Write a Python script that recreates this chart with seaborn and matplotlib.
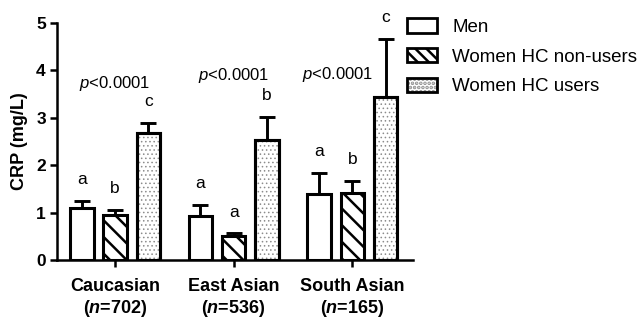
"""CRP by ethnic group and hormonal-contraceptive status (bar chart, mean + SEM)."""

import matplotlib
import matplotlib.pyplot as plt
import pandas as pd
import seaborn as sns
from matplotlib.patches import Patch, Rectangle

matplotlib.use("Agg")

# Values
groups = ["Caucasian", "East Asian", "South Asian"]
group_n = [702, 536, 165]
series = ["Men", "Women HC non-users", "Women HC users"]
crp_mean = [
    [1.09, 0.93, 1.39],  # Men
    [0.95, 0.51, 1.42],  # Women HC non-users
    [2.69, 2.53, 3.44],  # Women HC users
]
crp_err = [
    [0.15, 0.24, 0.44],
    [0.10, 0.05, 0.25],
    [0.21, 0.48, 1.22],
]
letters = [
    ["a", "a", "a"],
    ["b", "a", "b"],
    ["c", "b", "c"],
]
p_text = "$\\mathit{p}$<0.0001"
p_y = [3.72, 3.90, 3.92]
p_dx = [0.0, 0.0, -0.12]


def build_frame():
    rows = []
    for s, name in enumerate(series):
        for g, grp in enumerate(groups):
            rows.append({"group": grp, "series": name, "crp": crp_mean[s][g]})
    return pd.DataFrame(rows)


def main():
    sns.set_style("ticks")
    plt.rcParams["font.family"] = ["Liberation Sans", "DejaVu Sans"]
    plt.rcParams["text.color"] = "black"
    plt.rcParams["axes.labelcolor"] = "black"
    plt.rcParams["mathtext.fontset"] = "custom"
    plt.rcParams["mathtext.rm"] = "Liberation Sans"
    plt.rcParams["mathtext.it"] = "Liberation Sans:italic"
    plt.rcParams["mathtext.bf"] = "Liberation Sans:bold"
    plt.rcParams["mathtext.bfit"] = "Liberation Sans:italic:bold"
    plt.rcParams["hatch.linewidth"] = 1.8

    df = build_frame()
    fig, ax = plt.subplots(figsize=(6.43, 3.2), dpi=100)
    fig.subplots_adjust(left=0.0886, right=0.642, bottom=0.1875, top=0.928)

    sns.barplot(
        data=df, x="group", y="crp", hue="series",
        order=groups, hue_order=series,
        palette=["white"] * 3, edgecolor="black", linewidth=2.2,
        width=0.84, gap=0.3, errorbar=None, legend=False, ax=ax,
    )

    hatches = ["", "\\\\", None]
    bar_conts = list(ax.containers)
    for s, cont in enumerate(bar_conts):
        for g, bar in enumerate(cont):
            if hatches[s]:
                bar.set_hatch(hatches[s])
            x = bar.get_x() + bar.get_width() / 2
            top = bar.get_height()
            if hatches[s] is None:
                dots = Rectangle(bar.get_xy(), bar.get_width(), top, fill=False,
                                 hatch="....", edgecolor="#8c8c8c", lw=0,
                                 zorder=bar.get_zorder() + 0.1)
                if hasattr(dots, "set_hatch_linewidth"):
                    dots.set_hatch_linewidth(0.6)
                ax.add_patch(dots)
                ax.add_patch(Rectangle(bar.get_xy(), bar.get_width(), top, fill=False,
                                       edgecolor="black", lw=2.2,
                                       zorder=bar.get_zorder() + 0.2))
            ax.errorbar(x, top, yerr=[[0], [crp_err[s][g]]], fmt="none",
                        ecolor="black", elinewidth=2.1, capsize=5.5,
                        capthick=2.1, zorder=1)
            ax.annotate(letters[s][g], (x, top + crp_err[s][g]),
                        xytext=(0, 10), textcoords="offset points",
                        ha="center", va="bottom", fontsize=12.5)

    for g in range(len(groups)):
        ax.text(g + p_dx[g], p_y[g], p_text, ha="center", va="center", fontsize=12)

    ax.set_xlim(-0.49, 2.51)
    ax.set_ylim(0, 5)
    ax.set_yticks([0, 1, 2, 3, 4, 5])
    ax.set_xticks(range(len(groups)))
    ax.set_xticklabels(
        [f"{g}\n($\\mathbfit{{n}}$={n})" for g, n in zip(groups, group_n)],
        fontweight="bold", fontsize=13,
    )
    for lab in ax.get_yticklabels():
        lab.set_fontweight("bold")
        lab.set_fontsize(12.5)
    ax.set_xlabel("")
    ax.set_ylabel("CRP (mg/L)", fontweight="bold", fontsize=13, labelpad=6)
    ax.tick_params(axis="both", width=1.8, length=5, colors="black", pad=3)
    ax.tick_params(axis="x", pad=8)
    sns.despine(ax=ax)
    for sp in ["left", "bottom"]:
        ax.spines[sp].set_linewidth(1.8)
        ax.spines[sp].set_color("black")

    handles = [
        Patch(facecolor="white", edgecolor="black", lw=2),
        Patch(facecolor="white", edgecolor="black", lw=2, hatch="\\\\\\"),
        (Patch(facecolor="white", edgecolor="#8c8c8c", lw=0, hatch="...."),
         Patch(fill=False, edgecolor="black", lw=2)),
    ]
    fig.legend(handles, series, loc="upper left", bbox_to_anchor=(0.633, 0.943),
               frameon=False, fontsize=13.5, borderpad=0, borderaxespad=0,
               handlelength=1.6, handleheight=0.8, handletextpad=0.8,
               labelspacing=0.64)

    fig.savefig("out.png", dpi=100)
    plt.close(fig)


if __name__ == "__main__":
    main()
